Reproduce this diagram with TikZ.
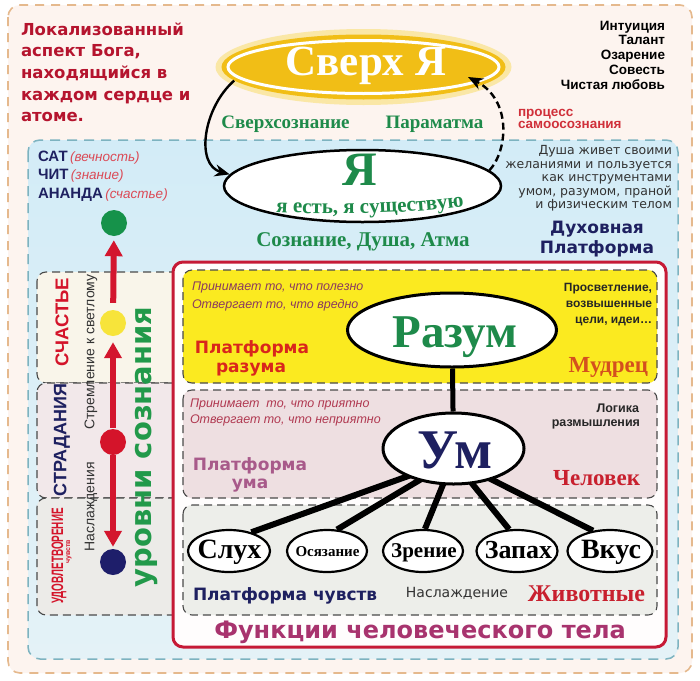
\documentclass[tikz,border=0pt]{standalone}
\usepackage{fontspec}
\usepackage{graphicx}
\setmainfont{Liberation Serif}
\newfontfamily\dvs{DejaVu Sans}
\newfontfamily\lsans{Liberation Sans}
\usetikzlibrary{shapes.geometric,arrows.meta,decorations.text}
\newcommand\fsz[1]{\fontsize{#1pt}{#1pt}\selectfont}
\pgfdeclarelayer{back}
\pgfdeclarelayer{mid}
\pgfsetlayers{back,mid,main}
\definecolor{cream}{HTML}{FDF4EF}
\definecolor{tanb}{HTML}{E5B98D}
\definecolor{bluebd}{HTML}{7DB3C0}
\definecolor{blueA}{HTML}{D3ECF7}
\definecolor{blueB}{HTML}{E4F2F7}
\definecolor{crim}{HTML}{B5142E}
\definecolor{navy}{HTML}{1E2060}
\definecolor{grn}{HTML}{1E8A4A}
\definecolor{grnB}{HTML}{22994A}
\definecolor{ygold}{HTML}{F1BE16}
\definecolor{yglow}{HTML}{FAE7A6}
\definecolor{redbox}{HTML}{C61A36}
\definecolor{yel}{HTML}{FBEA20}
\definecolor{pinkbox}{HTML}{EEDFE1}
\definecolor{graybox}{HTML}{EDEEEA}
\definecolor{dgray}{HTML}{4A4A4A}
\definecolor{arrred}{HTML}{D3162E}
\definecolor{mauve}{HTML}{A85A8A}
\definecolor{funcc}{HTML}{A8336E}
\definecolor{itred}{HTML}{DB4A56}
\definecolor{plum}{HTML}{8A3A60}
\definecolor{plumr}{HTML}{B03850}
\definecolor{orred}{HTML}{D9261C}
\definecolor{mudr}{HTML}{D4501E}
\definecolor{chel}{HTML}{C8202E}
\definecolor{procr}{HTML}{D0303A}
\definecolor{secA}{HTML}{F9F5EA}
\definecolor{secB}{HTML}{F2E8EA}
\definecolor{secC}{HTML}{ECEBE8}
\definecolor{dotg}{HTML}{16924A}
\definecolor{doty}{HTML}{F7E43A}
\definecolor{dotr}{HTML}{D4142A}
\definecolor{dotn}{HTML}{1E1E6A}
\definecolor{txtg}{HTML}{333333}
\begin{document}
\begin{tikzpicture}[x=1pt,y=-1pt,
  lbl/.style={inner sep=0pt,outer sep=0pt},
  dashbox/.style={draw=dgray,line width=1.1pt,dash pattern=on 8pt off 5pt,rounded corners=9pt},
  ell/.style={ellipse,draw=black,fill=white,inner sep=0pt},
  sense/.style={ell,line width=2.2pt,minimum height=42pt},
  sline/.style={line width=6pt,draw=black},
  rarrow/.style={draw=arrred,line width=6pt,-{Triangle[length=16pt,width=17pt]}},
  dotnode/.style={circle,inner sep=0pt,minimum size=26pt},
  blkarrow/.style={draw=black,line width=2.4pt,-{Stealth[length=15pt,width=12pt]}},
  sensetxt/.style={lbl,anchor=base,font=\bfseries\fsz{#1}},
]
\useasboundingbox (0,0) rectangle (700,680);
\begin{pgfonlayer}{back}
\fill[white] (0,0) rectangle (700,680);
% outer frame
\draw[tanb,line width=1.6pt,dash pattern=on 9pt off 7pt,rounded corners=12pt,fill=cream] (8,5) rectangle (692,673);
% blue region
\path[top color=blueA,bottom color=blueB,rounded corners=12pt] (28,140) rectangle (678,659);
\draw[bluebd,line width=1.5pt,dash pattern=on 10pt off 7pt,rounded corners=12pt] (28,140) rectangle (678,659);
% left panel boxes
\path[dashbox,fill=secA] (37,272) rectangle (195,383);
\path[dashbox,fill=secB] (37,383) rectangle (195,498);
\path[dashbox,fill=secC] (37,498) rectangle (195,615);
% red box
\draw[redbox,line width=3pt,rounded corners=10pt,fill=white!97!pink] (173,262) rectangle (666,647);
% inner platforms
\path[dashbox,fill=yel] (183,270) rectangle (657,383);
\path[dashbox,fill=pinkbox] (183,390) rectangle (657,498);
\path[dashbox,fill=graybox] (183,505) rectangle (657,615);
\end{pgfonlayer}

% ---------- top: Sverkh Ya ----------
\node[ellipse,inner sep=0pt,minimum width=296pt,minimum height=76pt,fill=yglow] (sverhglow) at (363.5,67) {};
\node[ellipse,inner sep=0pt,minimum width=284pt,minimum height=65pt,fill=ygold] (sverh) at (363.5,67) {};
\node[ellipse,inner sep=0pt,minimum width=271pt,minimum height=53pt,draw=white,line width=3pt,fill=ygold] (sverhin) at (sverh.center) {};
\node[lbl,anchor=base,font=\bfseries\fsz{43},text=white] (sverhtxt) at (366,75) {Сверх Я};

\node[lbl,anchor=base,font=\bfseries\fsz{19},text=grn] (sverhsoz) at (285.5,128) {Сверхсознание};
\node[lbl,anchor=base,font=\bfseries\fsz{19},text=grn] (paramatma) at (434.5,128) {Параматма};

% Ya ellipse
\node[ell,line width=2.5pt,minimum width=277pt,minimum height=72pt] (ya) at (362.5,186) {};
\node[lbl,anchor=base,font=\bfseries\fsz{48},text=grn] (yatxt) at (360,185) {Я};
\path[decorate,decoration={text along path,text align=center,text color=grn,
  text={|\bfseries\fsz{21}|я есть, я существую}}]
  (254,211) .. controls (340,216) and (420,214) .. (486,203);
\node[lbl,anchor=base,font=\bfseries\fsz{21},text=grn] (soznanie) at (363,246) {Сознание, Душа, Атма};

% arrows between Sverkh Ya and Ya
\coordinate (dtip) at (468,77);
\draw[blkarrow] (sverh.186) .. controls (203,108) and (195,165) .. (ya.175);
\draw[blkarrow,dash pattern=on 7pt off 4pt] (ya.7) .. controls (508,150) and (512,100) .. (dtip);

% ---------- top texts ----------
\foreach \t [count=\i] in {Локализованный,{аспект Бога,},находящийся в,каждом сердце и,атоме.}
  \node[lbl,anchor=base west,font=\dvs\bfseries\fsz{16.5},text=crim] (tl\i) at (21,13.3+21.7*\i) {\t};
\foreach \t [count=\i] in {Интуиция,Талант,Озарение,Совесть,Чистая любовь}
  \node[lbl,anchor=base east,font=\lsans\bfseries\fsz{13.5},text=black] (tr\i) at (665,15.25+14.75*\i) {\t};
\node[lbl,anchor=base west,font=\lsans\bfseries\fsz{13.5},text=procr] (proc1) at (518,116) {процесс};
\node[lbl,anchor=base west,font=\lsans\bfseries\fsz{13.5},text=procr] (proc2) at (518,128.5) {самоосознания};
\foreach \t [count=\i] in {Душа живет своими,желаниями и пользуется,как инструментами,{умом, разумом, праной},и физическим телом}
  \node[lbl,anchor=base east,font=\dvs\fsz{12.5},text=txtg] (du\i) at (672,140.9+13.6*\i) {\t};
\node[lbl,anchor=base,font=\dvs\bfseries\fsz{17},text=navy] (duh1) at (597,233) {Духовная};
\node[lbl,anchor=base,font=\dvs\bfseries\fsz{17},text=navy] (duh2) at (597,253) {Платформа};

\node[lbl,anchor=base west] (sat1) at (38,161) {{\lsans\bfseries\fsz{15}\color{navy}САТ} {\lsans\itshape\fsz{13.5}\color{itred}(вечность)}};
\node[lbl,anchor=base west] (sat2) at (38,179.5) {{\lsans\bfseries\fsz{15}\color{navy}ЧИТ} {\lsans\itshape\fsz{13.5}\color{itred}(знание)}};
\node[lbl,anchor=base west] (sat3) at (38,198) {{\lsans\bfseries\fsz{15}\color{navy}АНАНДА} {\lsans\itshape\fsz{13.5}\color{itred}(счастье)}};

% ---------- left column ----------
\node[dotnode,fill=dotg] (gdot) at (114,223) {};
\node[dotnode,fill=doty] (ydot) at (113,323) {};
\node[dotnode,fill=dotr] (rdot) at (113,442) {};
\node[dotnode,fill=dotn] (ndot) at (113,562) {};
\draw[rarrow,shorten <=7pt,shorten >=4pt] (ydot) -- (gdot);
\draw[rarrow,shorten <=1pt,shorten >=6pt] (rdot) -- (ydot);
\draw[rarrow,shorten <=0pt,shorten >=2pt] (rdot) -- (ndot);

\node[lbl,rotate=90,font=\lsans\bfseries\fsz{18.5},text=dotr] (schast) at (62,322) {СЧАСТЬЕ};
\node[lbl,rotate=90,font=\lsans\bfseries\fsz{18},text=navy] (strad) at (62,440) {СТРАДАНИЯ};
\node[lbl,rotate=90,font=\lsans\bfseries\fsz{16.5},text=dotr] (udovl) at (59,556) {\scalebox{0.6}[1]{УДОВЛЕТВОРЕНИЕ}};
\node[lbl,rotate=90,font=\lsans\bfseries\fsz{7},text=dotr] (chuvstv) at (69,552) {чувств};
\node[lbl,rotate=90,font=\lsans\fsz{14},text=txtg] (strem) at (91,352) {Стремление к светлому};
\node[lbl,rotate=90,font=\lsans\fsz{14},text=txtg] (naslA) at (91,507) {Наслаждения};
\node[lbl,rotate=90,font=\dvs\bfseries\fsz{29},text=grnB] (urovni) at (147,447) {уровни сознания};

% ---------- red box content ----------
\node[ell,line width=3pt,minimum width=209pt,minimum height=74pt] (razum) at (452,330) {};
\node[lbl,anchor=base,font=\bfseries\fsz{47},text=grn] (razumtxt) at (455,347) {Разум};
\node[ell,line width=3pt,minimum width=141pt,minimum height=71pt] (um) at (453.5,448.5) {};
\node[lbl,anchor=base,font=\bfseries\fsz{56},text=navy] (umtxt) at (455,468) {Ум};

\node[sense,minimum width=82pt] (s1) at (229,551) {};
\node[sense,minimum width=80pt] (s2) at (327,551) {};
\node[sense,minimum width=80pt] (s3) at (423,551) {};
\node[sense,minimum width=81pt] (s4) at (517,551) {};
\node[sense,minimum width=85pt] (s5) at (610,551) {};
\node[sensetxt=28] (s1t) at (229.5,558) {Слух};
\node[sensetxt=15] (s2t) at (327.5,556) {Осязание};
\node[sensetxt=21] (s3t) at (424,557.5) {Зрение};
\node[sensetxt=26] (s4t) at (518.5,558) {Запах};
\node[sensetxt=28] (s5t) at (611,558) {Вкус};

\coordinate (hub) at (453,460);
\begin{pgfonlayer}{mid}
\draw[line width=5pt] (razum) -- (um);
\draw[sline] (hub) -- (s1.40);
\draw[sline] (hub) -- (s2.65);
\draw[sline] (hub) -- (s3.85);
\draw[sline] (hub) -- (s4.110);
\draw[sline] (hub) -- (s5.130);
\end{pgfonlayer}

% razum platform texts
\node[lbl,anchor=base west,font=\lsans\itshape\fsz{12.5},text=plum] (pr1) at (192,290) {Принимает то, что полезно};
\node[lbl,anchor=base west,font=\lsans\itshape\fsz{12.5},text=plum] (pr2) at (192,308) {Отвергает то, что вредно};
\node[lbl,anchor=base east,font=\lsans\bfseries\fsz{12},text=black!85] (pros1) at (652,291) {Просветление,};
\node[lbl,anchor=base east,font=\lsans\bfseries\fsz{12},text=black!85] (pros2) at (652,307) {возвышенные};
\node[lbl,anchor=base east,font=\lsans\bfseries\fsz{12},text=black!85] (pros3) at (652,323) {цели, идеи\dots};
\node[lbl,anchor=base,font=\dvs\bfseries\fsz{17},text=orred] (plr1) at (252,353) {Платформа};
\node[lbl,anchor=base,font=\dvs\bfseries\fsz{17},text=orred] (plr2) at (251,372) {разума};
\node[lbl,anchor=base east,font=\bfseries\fsz{23},text=mudr] (mudrec) at (648,372) {Мудрец};

% um platform texts
\node[lbl,anchor=base west,font=\lsans\itshape\fsz{12.5},text=plumr] (pu1) at (190,407) {Принимает\ \ то, что приятно};
\node[lbl,anchor=base west,font=\lsans\itshape\fsz{12.5},text=plumr] (pu2) at (190,423) {Отвергает то, что неприятно};
\node[lbl,anchor=base east,font=\lsans\bfseries\fsz{12.5},text=black!85] (log1) at (639,412) {Логика};
\node[lbl,anchor=base east,font=\lsans\bfseries\fsz{12.5},text=black!85] (log2) at (640,426) {размышления};
\node[lbl,anchor=base,font=\dvs\bfseries\fsz{17},text=mauve] (plu1) at (250,470) {Платформа};
\node[lbl,anchor=base,font=\dvs\bfseries\fsz{17},text=mauve] (plu2) at (250,488) {ума};
\node[lbl,anchor=base east,font=\bfseries\fsz{23},text=chel] (chelovek) at (640,485) {Человек};

% senses platform texts
\node[lbl,anchor=base west,font=\dvs\bfseries\fsz{17},text=navy] (plch) at (193,600) {Платформа чувств};
\node[lbl,anchor=base,font=\dvs\fsz{14},text=txtg] (naslB) at (457,597) {Наслаждение};
\node[lbl,anchor=base east,font=\bfseries\fsz{24},text=chel] (zhiv) at (645,601) {Животные};
\node[lbl,anchor=base,font=\dvs\bfseries\fsz{24},text=funcc] (funk) at (420,638) {Функции человеческого тела};
\end{tikzpicture}
\end{document}
